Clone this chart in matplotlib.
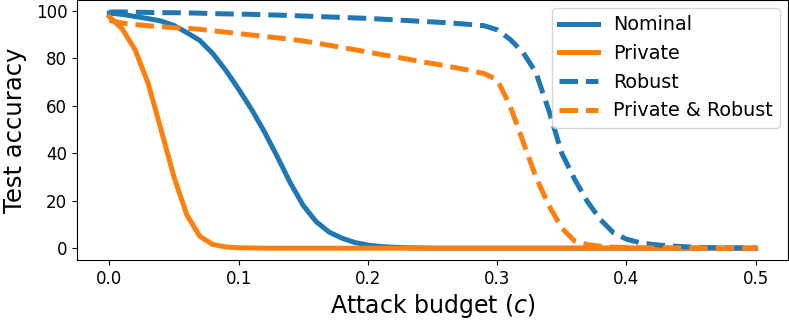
import numpy as np
import matplotlib
matplotlib.use("Agg")
import matplotlib.pyplot as plt

# attack budget c, step 0.01
budget = np.round(np.arange(0, 0.51, 0.01), 2)

nominal = [99.0, 98.5, 97.6, 96.7, 95.7, 93.8, 90.8, 87.5, 82.0, 75.0,
           67.0, 58.5, 49.0, 38.5, 27.5, 18.0, 11.2, 6.8, 4.2, 2.4,
           1.3, 0.7, 0.4, 0.2, 0.1] + [0.0] * 26
private = [97.5, 92.4, 83.5, 69.5, 50.0, 30.0, 14.0, 5.0, 1.6, 0.5,
           0.2, 0.1] + [0.0] * 39
robust = [99.5, 99.5, 99.4, 99.3, 99.2, 99.2, 99.1, 99.0, 98.8, 98.7,
          98.6, 98.5, 98.3, 98.2, 98.0, 97.8, 97.6, 97.4, 97.2, 97.0,
          96.8, 96.5, 96.2, 95.9, 95.6, 95.3, 95.0, 94.6, 94.2, 93.7,
          92.0, 88.0, 82.5, 74.0, 58.0, 40.0, 29.0, 19.5, 12.0, 6.5,
          3.8, 2.4, 1.6, 1.1, 0.8, 0.5, 0.3, 0.2, 0.1, 0.1, 0.1]
priv_robust = [96.0, 94.8, 94.2, 93.7, 93.3, 92.9, 92.6, 92.2, 91.6, 91.0,
               90.4, 89.8, 89.2, 88.6, 88.0, 87.3, 86.4, 85.5, 84.5, 83.6,
               82.6, 81.6, 80.7, 79.7, 78.7, 77.8, 76.8, 75.8, 74.8, 73.5,
               71.0, 60.0, 45.0, 30.0, 18.0, 8.5, 3.0, 1.5, 0.8, 0.4,
               0.3, 0.2, 0.1, 0.1, 0.1, 0.1, 0.1, 0.0, 0.0, 0.0, 0.0]

fig = plt.figure(figsize=(7.89, 3.22), dpi=100)
ax = fig.add_axes([0.0976, 0.1925, 0.9011, 0.807])

ax.plot(budget, nominal, color="tab:blue", lw=3.6, label="Nominal")
ax.plot(budget, private, color="tab:orange", lw=3.6, label="Private")
ax.plot(budget, robust, color="tab:blue", lw=3.6, ls="--", label="Robust")
ax.plot(budget, priv_robust, color="tab:orange", lw=3.6, ls="--", label="Private & Robust")

ax.set_xlabel("Attack budget ($c$)", fontsize=17, labelpad=3)
ax.set_ylabel("Test accuracy", fontsize=17.5, labelpad=6)
ax.tick_params(labelsize=12)
ax.set_xticks([0.0, 0.1, 0.2, 0.3, 0.4, 0.5])
ax.set_yticks([0, 20, 40, 60, 80, 100])
ax.legend(fontsize=13.8, loc="upper right", borderaxespad=0.4)

fig.savefig("out.png", dpi=100)
